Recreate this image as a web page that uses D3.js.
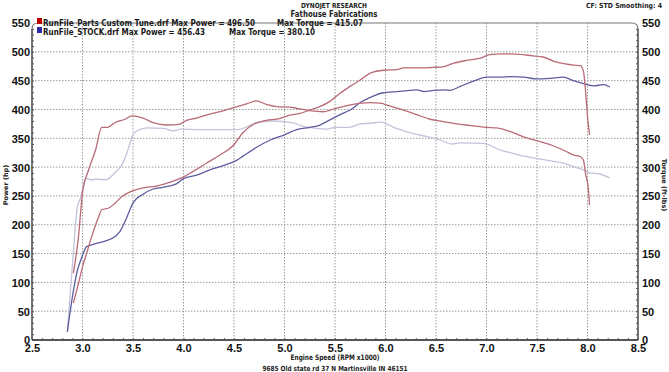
<!DOCTYPE html>
<html>
<head>
<meta charset="utf-8">
<script src="https://cdn.jsdelivr.net/npm/d3@7"></script>
<style>
  body { margin: 0; background: #fff; }
  svg { display: block; font-family: 'DejaVu Sans', Verdana, sans-serif; }
  .grid line { stroke: #9a9a9a; stroke-dasharray: 1.5,1.5; stroke-width: 1; }
  .axis path { display: none; }
  .axis text { font-size: 11px; font-weight: bold; fill: #111; }
  .minor line { stroke: #555; }
</style>
</head>
<body>
<div id="container"></div>
<script>
// [rpm x1000, value]
const tunePower = [[2.91,64],[2.96,98],[3.0,127],[3.04,150],[3.09,179],[3.16,214],[3.19,226],[3.26,229],[3.32,237],[3.39,249],[3.47,257],[3.6,264],[3.73,267],[3.87,274],[4.0,283],[4.1,293],[4.23,307],[4.36,321],[4.49,337],[4.59,360],[4.69,374],[4.82,381],[4.95,384],[5.05,390],[5.15,393],[5.25,399],[5.35,405],[5.45,414],[5.55,428],[5.65,440],[5.75,451],[5.85,463],[5.98,468],[6.11,469],[6.18,472],[6.34,472],[6.47,473],[6.57,474],[6.67,480],[6.8,485],[6.94,489],[7.03,495],[7.16,496.5],[7.3,496],[7.46,493],[7.56,491],[7.66,484],[7.78,479],[7.86,477],[7.93,476],[7.96,466],[7.98,434],[8.0,388],[8.02,356]];
const tuneTorque = [[2.91,116],[2.96,179],[3.0,255],[3.06,295],[3.13,330],[3.19,369],[3.25,369],[3.32,377],[3.42,383],[3.49,389],[3.6,385],[3.7,377],[3.83,373],[3.95,374],[4.03,381],[4.13,385],[4.26,392],[4.4,398],[4.53,405],[4.63,410],[4.72,415],[4.82,409],[4.92,405],[5.05,404],[5.15,401],[5.25,398],[5.38,396],[5.51,402],[5.65,408],[5.85,412],[5.95,411],[6.04,406],[6.18,399],[6.31,391],[6.44,383],[6.57,379],[6.71,375],[6.8,373],[7.0,369],[7.1,368],[7.23,362],[7.36,353],[7.53,344],[7.66,337],[7.79,327],[7.86,321],[7.93,318],[7.96,312],[7.98,289],[8.01,260],[8.02,234]];
const stockPower = [[2.85,14],[2.9,75],[2.95,121],[2.99,142],[3.04,162],[3.09,165],[3.15,168],[3.23,172],[3.29,176],[3.37,188],[3.42,205],[3.46,222],[3.5,238],[3.6,253],[3.7,262],[3.8,265],[3.93,271],[4.0,280],[4.13,286],[4.26,295],[4.4,303],[4.53,312],[4.59,319],[4.72,334],[4.86,347],[5.0,356],[5.12,365],[5.25,369],[5.35,373],[5.45,382],[5.55,391],[5.65,399],[5.75,412],[5.85,421],[5.98,429],[6.11,431],[6.24,433],[6.31,434],[6.38,431],[6.48,433],[6.58,434],[6.64,433],[6.74,440],[6.87,449],[7.0,456],[7.13,456],[7.25,457],[7.37,456],[7.5,453],[7.63,454],[7.76,456],[7.86,450],[7.96,445],[8.06,441],[8.16,443],[8.22,439]];
const stockTorque = [[2.85,14],[2.9,130],[2.95,231],[2.98,246],[3.03,281],[3.08,278],[3.15,279],[3.23,278],[3.32,290],[3.39,304],[3.44,325],[3.49,352],[3.54,363],[3.64,368],[3.8,367],[3.9,363],[3.97,366],[4.16,365],[4.3,365],[4.53,365],[4.63,370],[4.72,377],[4.86,380],[5.0,379],[5.1,376],[5.18,371],[5.32,367],[5.42,366],[5.51,369],[5.64,369],[5.75,375],[5.85,376],[5.95,378],[6.0,376],[6.08,369],[6.18,363],[6.28,358],[6.41,353],[6.54,347],[6.66,340],[6.74,342],[6.97,341],[7.13,330],[7.26,324],[7.4,318],[7.53,314],[7.66,310],[7.76,307],[7.86,301],[7.96,295],[8.02,290],[8.12,288],[8.22,281]];

const xTicks = d3.range(2.5, 8.51, 0.5);
const yTicks = d3.range(0, 551, 50);
const runs = [
  { name: 'RunFile_Parts Custom Tune.drf Max Power = 496.50', torque: 'Max Torque = 415.07', color: '#c00000' },
  { name: 'RunFile_STOCK.drf Max Power = 456.43', torque: 'Max Torque = 380.10', color: '#2a2aa8' }
];

const width = 669, height = 372;
const margin = { top: 23, right: 31, bottom: 32, left: 32 };
const x = d3.scaleLinear().domain([2.5, 8.5]).range([margin.left, width - margin.right]);
const y = d3.scaleLinear().domain([0, 550]).range([height - margin.bottom, margin.top]);

const svg = d3.select('#container').append('svg')
  .attr('width', width)
  .attr('height', height);

// dotted grid
svg.append('g').attr('class', 'grid')
  .selectAll('line').data(xTicks.slice(1, -1)).enter().append('line')
  .attr('x1', (d) => x(d)).attr('x2', (d) => x(d))
  .attr('y1', y(550)).attr('y2', y(0));
svg.append('g').attr('class', 'grid')
  .selectAll('line').data(yTicks.slice(1, -1)).enter().append('line')
  .attr('x1', x(2.5)).attr('x2', x(8.5))
  .attr('y1', (d) => y(d)).attr('y2', (d) => y(d));

// frame with rounded top corners
const r = 6;
const x0 = x(2.5), x1 = x(8.5), yt = y(550), yb = y(0);
svg.append('path')
  .attr('d', `M${x0},${yb} L${x0},${yt + r} Q${x0},${yt} ${x0 + r},${yt} L${x1 - r},${yt} Q${x1},${yt} ${x1},${yt + r} L${x1},${yb}`)
  .attr('fill', 'none')
  .attr('stroke', '#777')
  .attr('stroke-width', 1.2);
svg.append('line')
  .attr('x1', x0).attr('x2', x1).attr('y1', yb).attr('y2', yb)
  .attr('stroke', '#555').attr('stroke-width', 2);
svg.append('line')
  .attr('x1', x0).attr('x2', x0).attr('y1', yt + r).attr('y2', yb)
  .attr('stroke', '#666').attr('stroke-width', 1.6);
svg.append('line')
  .attr('x1', x1).attr('x2', x1).attr('y1', yt + r).attr('y2', yb)
  .attr('stroke', '#666').attr('stroke-width', 1.6);

// minor ticks
svg.append('g').attr('class', 'minor axis')
  .attr('transform', `translate(${x0},0)`)
  .call(d3.axisLeft(y).tickValues(d3.range(0, 541, 10)).tickSizeInner(-2).tickSizeOuter(0).tickFormat(''));
svg.append('g').attr('class', 'minor axis')
  .attr('transform', `translate(${x1},0)`)
  .call(d3.axisRight(y).tickValues(d3.range(0, 541, 10)).tickSizeInner(-2).tickSizeOuter(0).tickFormat(''));
svg.append('g').attr('class', 'minor axis')
  .attr('transform', `translate(0,${yb})`)
  .call(d3.axisBottom(x).tickValues(d3.range(25, 86, 1).map((d) => d / 10)).tickSizeInner(-2).tickSizeOuter(0).tickFormat(''));

// tick labels
svg.append('g').attr('class', 'axis')
  .attr('transform', `translate(${x0 + 1},0)`)
  .call(d3.axisLeft(y).tickValues(yTicks).tickSize(0).tickPadding(3))
  .selectAll('text').attr('dy', '0.36em');
svg.append('g').attr('class', 'axis')
  .attr('transform', `translate(${x1 + 1},0)`)
  .call(d3.axisRight(y).tickValues(yTicks).tickSize(0).tickPadding(3))
  .selectAll('text').attr('dy', '0.36em');
svg.append('g').attr('class', 'axis')
  .attr('transform', `translate(0,${yb + 3})`)
  .call(d3.axisBottom(x).tickValues(xTicks).tickSize(0).tickPadding(1).tickFormat(d3.format('.1f')));

// curves
const line = d3.line()
  .x((d) => x(d[0]))
  .y((d) => y(d[1]))
  .curve(d3.curveMonotoneX);

const curves = [
  { data: stockTorque, color: '#c3c3da' },
  { data: stockPower, color: '#5d5d9f' },
  { data: tuneTorque, color: '#b96a76' },
  { data: tunePower, color: '#b96a76' }
];
svg.append('g').selectAll('path')
  .data(curves).enter()
  .append('path')
  .attr('d', (d) => line(d.data))
  .attr('fill', 'none')
  .attr('stroke', (d) => d.color)
  .attr('stroke-width', 1.3);

// header texts
svg.append('text')
  .attr('x', 334).attr('y', 8)
  .attr('text-anchor', 'middle')
  .attr('textLength', 66).attr('lengthAdjust', 'spacingAndGlyphs')
  .style('font-size', '7px').style('font-weight', 'bold').style('fill', '#222')
  .text('DYNOJET RESEARCH');
svg.append('text')
  .attr('x', 334).attr('y', 17)
  .attr('text-anchor', 'middle')
  .attr('textLength', 87).attr('lengthAdjust', 'spacingAndGlyphs')
  .style('font-size', '8.5px').style('font-weight', 'bold').style('fill', '#222')
  .text('Fathouse Fabrications');
svg.append('text')
  .attr('x', 586).attr('y', 8)
  .attr('textLength', 76).attr('lengthAdjust', 'spacingAndGlyphs')
  .style('font-size', '7px').style('font-weight', 'bold').style('fill', '#222')
  .text('CF: STD  Smoothing: 4');

// legend
const legendName = [212, 162];
const legendTorqueX = [277, 229];
const legend = svg.append('g').selectAll('g')
  .data(runs).enter().append('g')
  .attr('transform', (d, i) => `translate(37,${23 + i * 9})`);
legend.append('rect')
  .attr('x', 0).attr('y', -5).attr('width', 5).attr('height', 6)
  .attr('fill', (d) => d.color);
legend.append('text')
  .attr('x', 6).attr('y', 3)
  .attr('textLength', (d, i) => legendName[i]).attr('lengthAdjust', 'spacingAndGlyphs')
  .style('font-size', '9.5px').style('font-weight', 'bold').style('fill', '#1a1a1a')
  .text((d) => d.name);
legend.append('text')
  .attr('x', (d, i) => legendTorqueX[i] - 37).attr('y', 3)
  .attr('textLength', 86).attr('lengthAdjust', 'spacingAndGlyphs')
  .style('font-size', '9.5px').style('font-weight', 'bold').style('fill', '#1a1a1a')
  .text((d) => d.torque);

// axis titles
svg.append('text')
  .attr('transform', 'translate(8,185) rotate(-90)')
  .attr('text-anchor', 'middle')
  .style('font-size', '6.5px').style('font-weight', 'bold').style('fill', '#222')
  .text('Power (hp)');
svg.append('text')
  .attr('transform', 'translate(662,185) rotate(90)')
  .attr('text-anchor', 'middle')
  .style('font-size', '6.5px').style('font-weight', 'bold').style('fill', '#222')
  .text('Torque (ft-lbs)');
svg.append('text')
  .attr('x', 335).attr('y', 360)
  .attr('text-anchor', 'middle')
  .attr('textLength', 89).attr('lengthAdjust', 'spacingAndGlyphs')
  .style('font-size', '7.5px').style('font-weight', 'bold').style('fill', '#222')
  .text('Engine Speed (RPM x1000)');
svg.append('text')
  .attr('x', 335).attr('y', 371)
  .attr('text-anchor', 'middle')
  .attr('textLength', 145).attr('lengthAdjust', 'spacingAndGlyphs')
  .style('font-size', '7px').style('font-weight', 'bold').style('fill', '#222')
  .text('9685 Old state rd 37 N Martinsville IN 46151');
</script>
</body>
</html>
